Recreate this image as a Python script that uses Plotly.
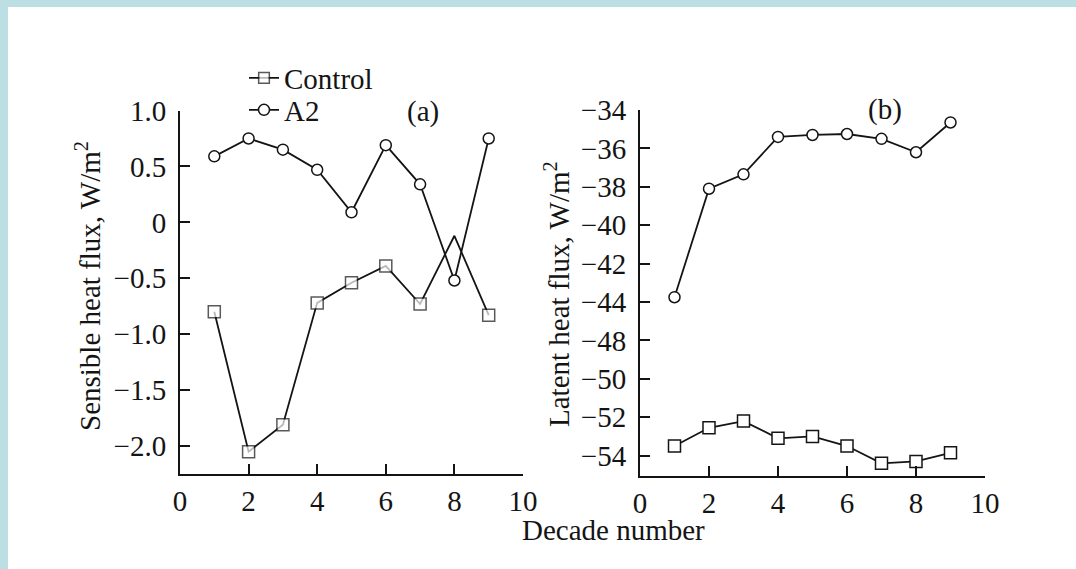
import plotly.graph_objects as go

# ---------------- data ----------------
decades = [1, 2, 3, 4, 5, 6, 7, 8, 9]
sens_control = [-0.80, -2.05, -1.81, -0.72, -0.54, -0.39, -0.73, -0.12, -0.83]
sens_a2 = [0.59, 0.75, 0.65, 0.47, 0.09, 0.69, 0.34, -0.52, 0.75]
lat_control = [-53.5, -52.55, -52.2, -53.1, -53.0, -53.5, -54.4, -54.3, -53.85]
lat_a2 = [-43.75, -38.1, -37.35, -35.4, -35.3, -35.25, -35.5, -36.2, -34.65]

x_ticks = [0, 2, 4, 6, 8, 10]
sens_ticks = [1.0, 0.5, 0, -0.5, -1.0, -1.5, -2.0]
sens_ticktext = ["1.0", "0.5", "0", "\u22120.5", "\u22121.0", "\u22121.5", "\u22122.0"]
lat_ticks = [-34, -36, -38, -40, -42, -44, -48, -50, -52, -54]

# The latent-heat axis of the original skips the -46 label (axis break);
# values below the break are drawn 2 units higher on the linear axis.
def lat_axis(v):
    return v if v > -45 else v + 2

FONT = "Liberation Serif, Times New Roman, serif"
FS = 29
INK = "#141414"

fig = go.Figure()

# hidden marker at decade 8 for the control curve (as in the original)
ctrl_sizes = [0 if d == 8 else 12 for d in decades]

fig.add_trace(go.Scatter(
    x=decades, y=sens_control, name="Control", mode="lines+markers",
    line=dict(color=INK, width=1.8),
    marker=dict(symbol="square", size=ctrl_sizes, color="white",
                line=dict(color=INK, width=1.5)),
    xaxis="x", yaxis="y", legend="legend"))
fig.add_trace(go.Scatter(
    x=decades, y=sens_a2, name="A2", mode="lines+markers",
    line=dict(color=INK, width=1.8),
    marker=dict(symbol="circle", size=11, color="white",
                line=dict(color=INK, width=1.5)),
    xaxis="x", yaxis="y", legend="legend2"))
fig.add_trace(go.Scatter(
    x=decades, y=[lat_axis(v) for v in lat_control], name="Control",
    mode="lines+markers", showlegend=False,
    line=dict(color=INK, width=1.8),
    marker=dict(symbol="square", size=12, color="white",
                line=dict(color=INK, width=1.5)),
    xaxis="x2", yaxis="y2"))
fig.add_trace(go.Scatter(
    x=decades, y=[lat_axis(v) for v in lat_a2], name="A2",
    mode="lines+markers", showlegend=False,
    line=dict(color=INK, width=1.8),
    marker=dict(symbol="circle", size=11, color="white",
                line=dict(color=INK, width=1.5)),
    xaxis="x2", yaxis="y2"))

W, H = 1076, 569
def px(x):
    return x / W
def py(y):
    return 1 - y / H

axis_common = dict(showgrid=False, zeroline=False, showline=True,
                   linecolor=INK, linewidth=2, ticks="inside", ticklen=10,
                   tickwidth=2, tickcolor=INK,
                   tickfont=dict(family=FONT, size=FS, color=INK))

legend_common = dict(xanchor="left", yanchor="middle", bgcolor="rgba(0,0,0,0)",
                     font=dict(family=FONT, size=FS, color=INK), itemwidth=30)

fig.update_layout(
    width=W, height=H,
    margin=dict(l=0, r=0, t=0, b=0, autoexpand=False),
    paper_bgcolor="white", plot_bgcolor="white",
    xaxis=dict(domain=[px(180), px(523)], range=[0, 10], tickvals=x_ticks,
               anchor="y", ticklabelstandoff=0, **axis_common),
    yaxis=dict(domain=[py(474), py(110.5)], range=[-2.25, 1.0],
               tickvals=sens_ticks, ticktext=sens_ticktext, anchor="x",
               ticklabelstandoff=6, **axis_common),
    xaxis2=dict(domain=[px(640), px(985)], range=[0, 10], tickvals=x_ticks,
                anchor="y2", ticklabelstandoff=0, **axis_common),
    yaxis2=dict(domain=[py(476), py(110)], range=[-53.06, -34],
                tickvals=[lat_axis(t) for t in lat_ticks],
                ticktext=[str(t).replace("-", "\u2212") for t in lat_ticks],
                anchor="x2", ticklabelstandoff=6, **axis_common),
    legend=dict(x=px(244), y=py(78), **legend_common),
    legend2=dict(x=px(244), y=py(110), **legend_common),
    showlegend=True,
)

# light-blue frame (top and left edges)
fig.add_shape(type="rect", xref="paper", yref="paper", x0=0, x1=1,
              y0=py(7), y1=1, fillcolor="#BBDFE2", line=dict(width=0), layer="below")
fig.add_shape(type="rect", xref="paper", yref="paper", x0=0, x1=px(8),
              y0=0, y1=1, fillcolor="#BBDFE2", line=dict(width=0), layer="below")

ann = [
    dict(text="Sensible heat flux, W/m<sup>2</sup>", x=px(88), y=py(286),
         textangle=-90),
    dict(text="Latent heat flux, W/m<sup>2</sup>", x=px(557), y=py(294),
         textangle=-90),
    dict(text="Decade number", x=px(613), y=py(530)),
    dict(text="(a)", x=px(423), y=py(111)),
    dict(text="(b)", x=px(885), y=py(110)),
]
for a in ann:
    fig.add_annotation(xref="paper", yref="paper", showarrow=False,
                       xanchor="center", yanchor="middle",
                       font=dict(family=FONT, size=FS, color=INK), **a)

fig.write_html("out.html")
